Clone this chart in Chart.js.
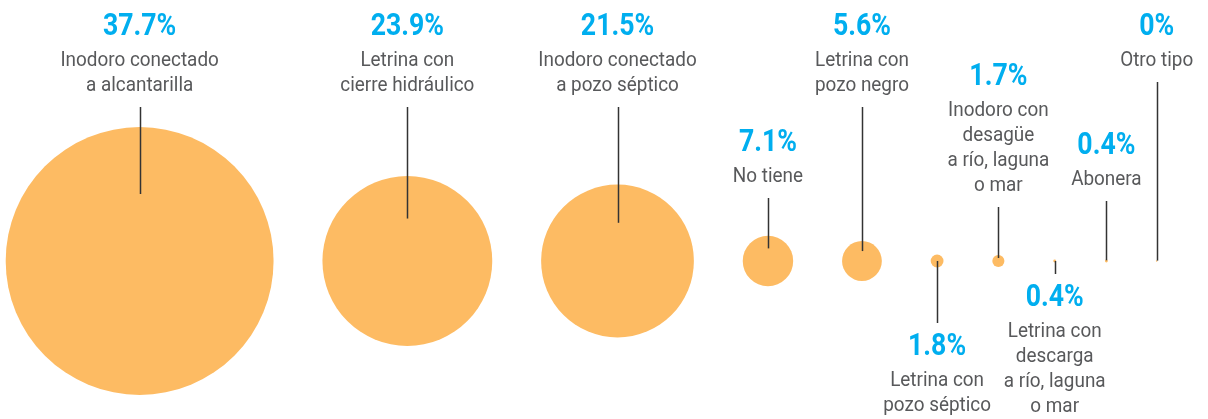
<!DOCTYPE html>
<html>
<head>
<meta charset="utf-8">
<script src="https://cdn.jsdelivr.net/npm/chart.js@4/dist/chart.umd.min.js"></script>
<style>
  html, body { margin: 0; padding: 0; background: #fff; }
  canvas { display: block; }
</style>
</head>
<body>
<canvas id="chart" width="1208" height="419"></canvas>
<script>
// datos
const categories = [
  ["Inodoro conectado", "a alcantarilla"],
  ["Letrina con", "cierre hidráulico"],
  ["Inodoro conectado", "a pozo séptico"],
  ["No tiene"],
  ["Letrina con", "pozo negro"],
  ["Letrina con", "pozo séptico"],
  ["Inodoro con", "desagüe", "a río, laguna", "o mar"],
  ["Letrina con", "descarga", "a río, laguna", "o mar"],
  ["Abonera"],
  ["Otro tipo"]
];
const values = [37.7, 23.9, 21.5, 7.1, 5.6, 1.8, 1.7, 0.4, 0.4, 0];

// ubicación de las etiquetas (arriba / abajo y altura del porcentaje)
const labelSide = ["top", "top", "top", "top", "top", "bottom", "top", "bottom", "top", "top"];
const labelY = [27, 27, 27, 143, 27, 347, 77, 298, 146, 27];

const X_MAX = 340;   // unidades del eje x (puntos porcentuales)
const START = 1.6;
const GAP = 13.75;
const MIN_R = 0.8;

// centros: cada burbuja junto a la anterior, con el radio = valor en la escala x
const points = [];
let cx = START;
values.forEach((v, i) => {
  if (i === 0) cx = START + v;
  else cx = cx + values[i - 1] + GAP + v;
  points.push({ x: cx, y: 0 });
});

const pctColor = "#00AEEF";
const textColor = "#58595B";
const lineColor = "#333333";

function radiusFor(chart, v) {
  const s = chart.scales.x;
  let r = NaN;
  if (s) r = s.getPixelForValue(v) - s.getPixelForValue(0);
  if (!isFinite(r)) r = v * chart.width / X_MAX;
  return Math.max(MIN_R, r);
}

function scaledText(ctx, text, x, y, sx) {
  ctx.save();
  ctx.translate(x, y);
  ctx.scale(sx, 1);
  ctx.fillText(text, 0, 0);
  ctx.restore();
}

const labelsPlugin = {
  id: "labels",
  afterDatasetsDraw(chart) {
    const ctx = chart.ctx;
    const meta = chart.getDatasetMeta(0);
    ctx.save();
    ctx.textAlign = "center";
    ctx.textBaseline = "middle";
    meta.data.forEach((el, i) => {
      const r = radiusFor(chart, values[i]);
      const x = Math.round(el.x) + 0.5;
      const py = labelY[i];
      const lines = categories[i];
      const lastY = py + 34 + (lines.length - 1) * 25;

      // línea guía
      ctx.strokeStyle = lineColor;
      ctx.lineWidth = 1.5;
      ctx.beginPath();
      if (labelSide[i] === "top") {
        ctx.moveTo(x, lastY + 21);
        ctx.lineTo(x, el.y - r * 0.5);
      } else {
        ctx.moveTo(x, el.y);
        ctx.lineTo(x, py - 24);
      }
      ctx.stroke();

      // porcentaje
      ctx.fillStyle = pctColor;
      ctx.font = "bold 31px Roboto";
      const pct = values[i] === 0 ? "0%" : values[i].toFixed(1) + "%";
      scaledText(ctx, pct, el.x, py, 0.86);

      // nombre
      ctx.fillStyle = textColor;
      ctx.font = "21px Roboto";
      lines.forEach((t, j) => {
        scaledText(ctx, t, el.x, py + 34 + j * 25, 0.9);
      });
    });
    ctx.restore();
  }
};

const chart = new Chart(document.getElementById("chart"), {
  type: "bubble",
  data: {
    datasets: [{
      data: points,
      backgroundColor: "#FDBB63",
      borderWidth: 0,
      hoverBorderWidth: 0,
      clip: false,
      radius: (c) => radiusFor(c.chart, values[c.dataIndex] || 0)
    }]
  },
  options: {
    responsive: false,
    animation: false,
    events: [],
    layout: { autoPadding: false, padding: { top: 103, left: 0, right: 0, bottom: 0 } },
    scales: {
      x: { type: "linear", min: 0, max: X_MAX, display: false },
      y: { type: "linear", min: -1, max: 1, display: false }
    },
    plugins: {
      legend: { display: false },
      tooltip: { enabled: false }
    }
  },
  plugins: [labelsPlugin]
});
chart.update("none");
</script>
</body>
</html>
